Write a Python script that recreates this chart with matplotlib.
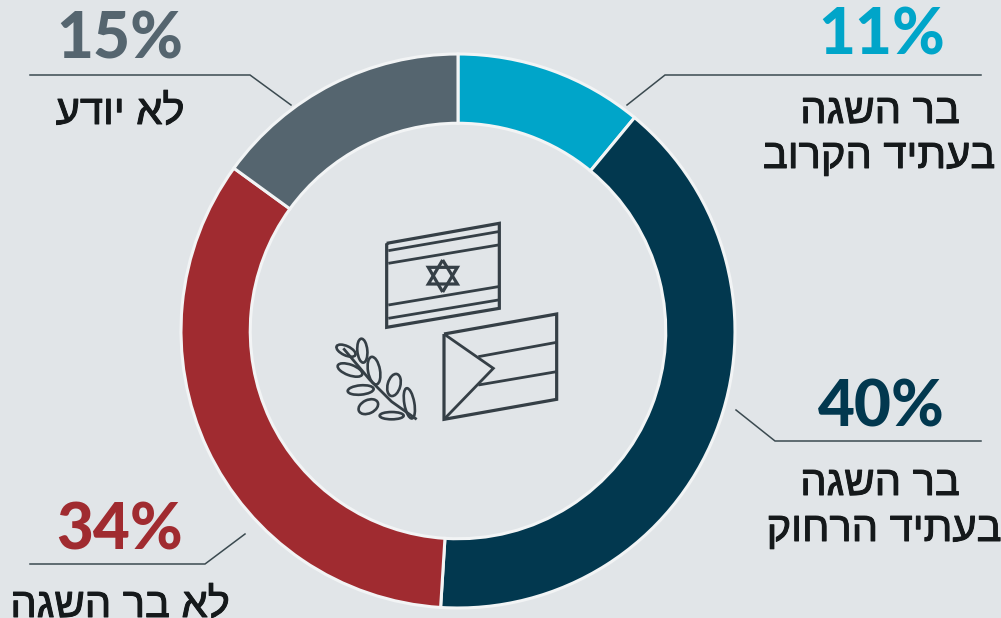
import matplotlib
matplotlib.use('Agg')
import numpy as np
import matplotlib.pyplot as plt
import matplotlib.patheffects as pe
from matplotlib.patches import Ellipse

# valori del grafico
labels = ['בר השגה\nבעתיד הקרוב', 'בר השגה\nבעתיד הרחוק', 'לא בר השגה', 'לא יודע']
values = [11, 40, 34, 15]
colors = ['#00A5C9', '#02384F', '#A02B30', '#55656F']
bg = '#E1E5E8'
W, H = 1001, 618

fig = plt.figure(figsize=(W/100, H/100), dpi=100, facecolor=bg)

# ciambella
cx, cy, R = 458, 331, 277
ax = fig.add_axes([(cx-R)/W, 1-(cy+R)/H, 2*R/W, 2*R/H])
ax.pie(values, colors=colors, startangle=90, counterclock=False, radius=1,
       wedgeprops=dict(width=0.25, edgecolor='#F2F4F5', linewidth=2.2))
ax.set_xlim(-1, 1)
ax.set_ylim(-1, 1)
ax.set_axis_off()

# overlay in pixel per testi, linee e icona
ov = fig.add_axes([0, 0, 1, 1])
ov.set_xlim(0, W)
ov.set_ylim(H, 0)
ov.set_axis_off()
ov.patch.set_alpha(0)

def heb(s):
    # matplotlib non fa il bidi, giro le righe a mano
    return s[::-1]

# leader
leaders = [
    ([627, 665, 981], [105, 75, 75]),
    ([736, 775, 981], [410, 441, 441]),
    ([245, 205, 30], [534, 564, 564]),
    ([291, 250, 30], [105, 75, 75]),
]
for lx, ly in leaders:
    ov.plot(lx, ly, color='#3B4A50', lw=1.1, solid_joinstyle='miter')

# percentuali
pct_pos = [(882, 36), (881, 408), (120, 531), (120, 40)]
for v, c, (x, y) in zip(values, colors, pct_pos):
    ov.text(x, y, f'{v}%', color=c, fontsize=46, family='Lato', weight='black',
            ha='center', va='center')

# etichette, riga per riga
label_pos = [[(880, 112), (879, 157)], [(880, 484), (884, 530)], [(120, 606)], [(120, 113)]]
for lab, pos in zip(labels, label_pos):
    for line, (x, y) in zip(lab.split('\n'), pos):
        ov.text(x, y, heb(line), color='#15191B', fontsize=30, family='Liberation Sans',
                ha='center', va='center',
                path_effects=[pe.withStroke(linewidth=0.7, foreground='#15191B')])

ink = '#353F46'
def zx(v):
    return 320 + np.array(v, dtype=float)/3
def zy(v):
    return 210 + np.array(v, dtype=float)/3
def seg(xs, ys, lw=2):
    ov.plot(zx(xs), zy(ys), color=ink, lw=lw, solid_joinstyle='miter', solid_capstyle='butt')

# bandiera israeliana
seg([200, 538, 538, 200, 200], [100, 40, 295, 352, 100], lw=2.3)
seg([205, 535], [122, 65])
seg([205, 535], [160, 105])
seg([205, 535], [285, 230])
seg([205, 535], [325, 270])
seg([368, 412, 325, 368], [150, 222, 222, 150], lw=2.3)
seg([368, 412, 325, 368], [246, 172, 172, 246], lw=2.3)

# bandiera palestinese
seg([372, 710, 710, 372, 372], [372, 312, 568, 628, 372], lw=2.3)
seg([372, 520, 372], [372, 475, 628])
seg([475, 710], [440, 397])
seg([475, 710], [525, 485])

# ramo d'ulivo
seg([290, 215, 150, 70], [628, 575, 510, 415])
leaves = [(78, 422, 62, 28, 25), (127, 422, 72, 30, 85), (90, 480, 78, 32, 20),
          (162, 482, 84, 36, 80), (122, 540, 78, 28, -5), (222, 525, 68, 38, -75),
          (145, 590, 62, 40, -25), (215, 617, 72, 22, 0), (268, 580, 92, 30, 80)]
for x, y, w, h, a in leaves:
    ov.add_patch(Ellipse((zx(x), zy(y)), w/3, h/3, angle=a, fill=False, edgecolor=ink, lw=1.9))

fig.savefig('out.png', dpi=100, facecolor=bg)
